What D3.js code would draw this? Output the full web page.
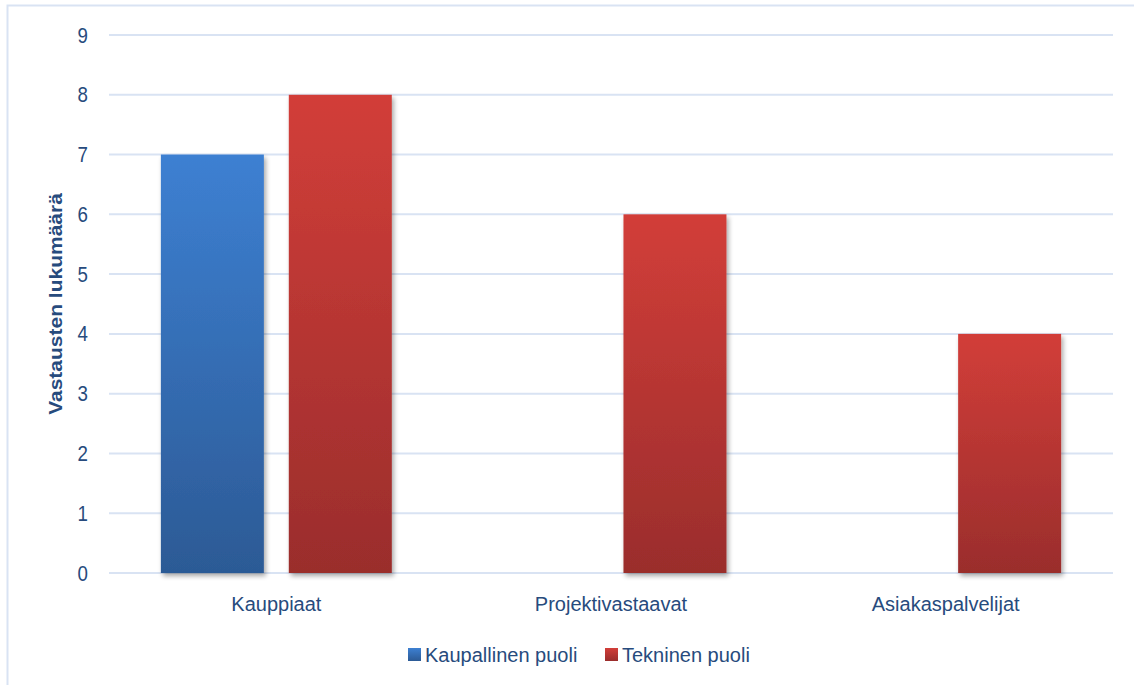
<!DOCTYPE html>
<html><head><meta charset="utf-8">
<script src="https://cdn.jsdelivr.net/npm/d3@7"></script>
<style>
html,body{margin:0;padding:0;background:#fff;}
svg{display:block;font-family:"Liberation Sans Narrow","Arial Narrow","Liberation Sans",Arial,sans-serif;}
</style></head>
<body><svg id="c" width="1134" height="685"></svg>
<script>
const categories = ["Kauppiaat", "Projektivastaavat", "Asiakaspalvelijat"];
const seriesNames = ["Kaupallinen puoli", "Tekninen puoli"];
const kaupallinen = [7, 0, 0];
const tekninen = [8, 6, 4];
const yTicks = [0,1,2,3,4,5,6,7,8,9];
const yTitle = "Vastausten lukumäärä";

(function(){
const svg = d3.select("#c");
const defs = svg.append("defs");
function grad(id, c1, c2){
  const g = defs.append("linearGradient").attr("id", id).attr("x1",0).attr("y1",0).attr("x2",0).attr("y2",1);
  g.append("stop").attr("offset","0%").attr("stop-color",c1);
  g.append("stop").attr("offset","100%").attr("stop-color",c2);
}
grad("gBlue", "#3d80d2", "#2c5a95");
grad("gRed", "#d23e39", "#9a2d2c");
const f = defs.append("filter").attr("id","sh").attr("x","-10%").attr("y","-5%").attr("width","125%").attr("height","115%");
f.append("feGaussianBlur").attr("in","SourceAlpha").attr("stdDeviation",2.5);
f.append("feOffset").attr("dx",2).attr("dy",3).attr("result","o");
f.append("feComponentTransfer").append("feFuncA").attr("type","linear").attr("slope",0.35);
const m = f.append("feMerge"); m.append("feMergeNode"); m.append("feMergeNode").attr("in","SourceGraphic");

svg.append("rect").attr("x",7.5).attr("y",5.5).attr("width",1140).attr("height",700)
  .attr("fill","none").attr("stroke","#d9e3f3").attr("stroke-width",2);

const pL = 109, pR = 1113, pT = 35, pB = 573;
const y = d3.scaleLinear().domain([0,9]).range([pB, pT]);
const x0 = d3.scaleBand().domain(categories).range([pL, pR]).paddingInner(0.31).paddingOuter(0.155);
const x1 = d3.scaleBand().domain(seriesNames).range([0, x0.bandwidth()]).paddingInner(0.195);

const textColor = "#274b7d";
svg.append("g").selectAll("line").data(yTicks).join("line")
  .attr("x1",pL).attr("x2",pR).attr("y1",d=>y(d)).attr("y2",d=>y(d))
  .attr("stroke","#d9e3f3").attr("stroke-width",2);

const yAxis = d3.axisLeft(y).tickValues(yTicks).tickSize(0).tickPadding(0).tickFormat(d3.format("d"));
const ga = svg.append("g").attr("transform",`translate(${pL-21},0)`).call(yAxis);
ga.select(".domain").remove();
ga.selectAll("text").attr("fill",textColor).attr("font-size",22).attr("font-family","inherit")
  .attr("transform","scale(0.85,1)");

svg.append("text").attr("transform",`translate(62,${(pT+pB)/2}) rotate(-90) scale(1,0.9)`)
  .attr("text-anchor","middle").attr("fill",textColor).attr("font-weight","bold").attr("font-size",21)
  .text(yTitle);

const data = categories.map((c,i)=>({c, vals:[{s:seriesNames[0],v:kaupallinen[i],f:"url(#gBlue)"},{s:seriesNames[1],v:tekninen[i],f:"url(#gRed)"}]}));
const gb = svg.append("g").selectAll("g").data(data).join("g").attr("transform",d=>`translate(${x0(d.c)},0)`);
gb.selectAll("rect").data(d=>d.vals.filter(v=>v.v>0)).join("rect")
  .attr("x",d=>x1(d.s)).attr("width",x1.bandwidth())
  .attr("y",d=>y(d.v)).attr("height",d=>y(0)-y(d.v))
  .attr("fill",d=>d.f).attr("filter","url(#sh)");

const xAxis = d3.axisBottom(x0).tickSize(0).tickPadding(0);
const gx = svg.append("g").attr("transform",`translate(0,${pB+38})`).call(xAxis);
gx.select(".domain").remove();
gx.selectAll("text").attr("fill",textColor).attr("font-size",20).attr("font-family","inherit").attr("dy","0");

const legX = [408, 605];
const lg = svg.append("g").selectAll("g").data(seriesNames).join("g")
  .attr("transform",(d,i)=>`translate(${legX[i]},648)`);
lg.append("rect").attr("width",13).attr("height",13).attr("fill",(d,i)=>i===0?"url(#gBlue)":"url(#gRed)");
lg.append("text").attr("x",17).attr("y",14).attr("fill",textColor).attr("font-size",20).text(d=>d);
})();
</script></body></html>
